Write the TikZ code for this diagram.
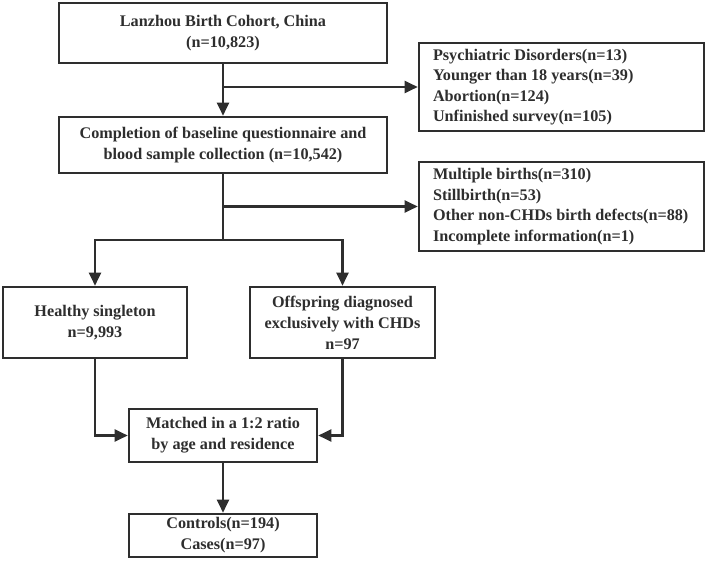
\documentclass[tikz,border=0pt]{standalone}
\usepackage{fontspec}
\setmainfont{Liberation Serif}
\usetikzlibrary{arrows.meta}
\definecolor{ink}{HTML}{2E2E2E}
\newcommand{\leftlist}[1]{\makebox[257pt][l]{\begin{tabular}{@{}l@{}}#1\end{tabular}}}
\begin{document}
\begin{tikzpicture}[x=1pt,y=-1pt,
  box/.style={draw=ink,line width=2.6pt,fill=white,text=ink,align=center,inner sep=0pt,
    font=\fontsize{16.2}{21}\selectfont\bfseries},
  arr/.style={draw=ink,line width=2.1pt,-{Triangle[length=13pt,width=12pt]}},
  ln/.style={draw=ink,line width=2.1pt}]
\useasboundingbox (0,0) rectangle (708,561);
\node[box,minimum width=328pt,minimum height=60pt] (b1) at (223,33) {Lanzhou Birth Cohort, China\\(n=10,823)};
\node[box,minimum width=328pt,minimum height=56pt] (b2) at (223,145) {Completion of baseline questionnaire and\\blood sample collection (n=10,542)};
\node[box,minimum width=285pt,minimum height=88pt] (r1) at (561.5,87) {\renewcommand{\arraystretch}{0.98}\leftlist{Psychiatric Disorders(n=13)\\Younger than 18 years(n=39)\\Abortion(n=124)\\Unfinished survey(n=105)}};
\node[box,minimum width=285pt,minimum height=89pt] (r2) at (561.5,206.5) {\renewcommand{\arraystretch}{0.98}\leftlist{Multiple births(n=310)\\Stillbirth(n=53)\\Other non-CHDs birth defects(n=88)\\Incomplete information(n=1)}};
\node[box,minimum width=184pt,minimum height=71pt] (h) at (95,322.5) {Healthy singleton\\n=9,993};
\node[box,minimum width=185pt,minimum height=71pt] (o) at (342.5,322.5) {Offspring diagnosed\\exclusively with CHDs\\n=97};
\node[box,minimum width=188pt,minimum height=53pt] (m) at (223,435.5) {Matched in a 1:2 ratio\\by age and residence};
\node[box,minimum width=188pt,minimum height=43pt] (f) at (223,535.5) {Controls(n=194)\\Cases(n=97)};
\coordinate (j1) at (223,87);
\coordinate (j2) at (223,206.5);
\coordinate (j3) at (223,240);
\draw[arr] (b1.south) -- (b2.north);
\draw[arr] (j1) -- (r1.west);
\draw[ln] (b2.south) -- (j3);
\draw[arr] (j2) -- (r2.west);
\draw[arr] (j3) -| (h.north);
\draw[arr] (j3) -| (o.north);
\draw[arr] (h.south) |- (m.west);
\draw[arr] (o.south) |- (m.east);
\draw[arr] (m.south) -- (f.north);
\end{tikzpicture}
\end{document}
